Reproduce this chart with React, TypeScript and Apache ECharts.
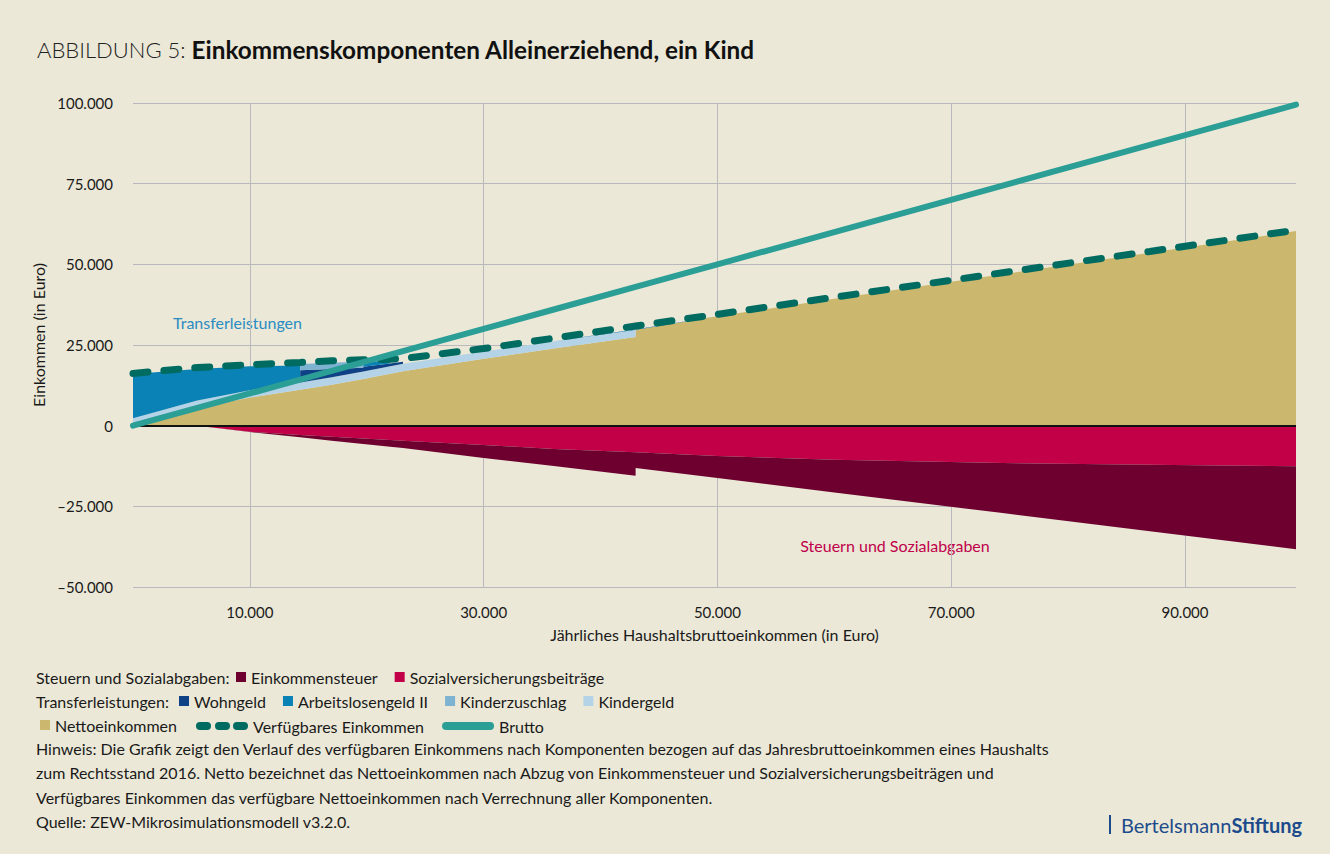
import React, { useEffect, useRef } from "react";
import * as echarts from "echarts";

// Jährliches Haushaltsbruttoeinkommen (x values; duplicates +1 mark steps)
const income = [0, 5500, 10000, 14300, 14301, 17000, 19700, 19701, 22000, 22001, 23100, 23101, 30000, 36000, 43000, 43001, 50000, 60000, 74400, 87000, 99500];
const netto = [0, 5500, 8700, 11100, 11100, 12700, 14500, 14500, 16100, 16100, 16900, 16900, 20700, 23900, 27500, 29700, 33900, 39300, 46900, 53600, 60300];
const kindergeld = [2280, 2280, 2280, 2280, 2280, 2280, 2280, 2280, 2280, 2280, 2280, 2280, 2280, 2280, 2280, 0, 0, 0, 0, 0, 0];
const wohngeld = [0, 0, 0, 0, 3800, 2600, 1200, 1500, 900, 900, 600, 0, 0, 0, 0, 0, 0, 0, 0, 0, 0];
const alg2 = [13700, 9800, 7400, 5300, 0, 0, 0, 1300, 900, 0, 0, 0, 0, 0, 0, 0, 0, 0, 0, 0, 0];
const kinderzuschlag = [0, 0, 0, 0, 1900, 1900, 1900, 0, 0, 0, 0, 0, 0, 0, 0, 0, 0, 0, 0, 0, 0];
const sozial = [0, 0, -1900, -2900, -2900, -3400, -4000, -4000, -4450, -4450, -4700, -4700, -6000, -7200, -8200, -8200, -9400, -10600, -11600, -12100, -12600];
const steuer = [0, 0, -100, -700, -700, -1300, -1700, -1700, -2050, -2050, -2200, -2200, -4000, -5300, -7300, -4900, -6800, -10100, -15500, -20600, -25700];
const verfuegbar = [16200, 18000, 18900, 19600, 19600, 20100, 20400, 20400, 20600, 20600, 20800, 20800, 23900, 27100, 30900, 30900, 34500, 39800, 47400, 54000, 60600];
const brutto = [0, 5500, 10000, 14300, 14301, 17000, 19700, 19701, 22000, 22001, 23100, 23101, 30000, 36000, 43000, 43001, 50000, 60000, 74400, 87000, 99500];

const xTicks = [10000, 30000, 50000, 70000, 90000];

const notes = [
  "Hinweis: Die Grafik zeigt den Verlauf des verfügbaren Einkommens nach Komponenten bezogen auf das Jahresbruttoeinkommen eines Haushalts",
  "zum Rechtsstand 2016. Netto bezeichnet das Nettoeinkommen nach Abzug von Einkommensteuer und Sozialversicherungsbeiträgen und",
  "Verfügbares Einkommen das verfügbare Nettoeinkommen nach Verrechnung aller Komponenten.",
  "Quelle: ZEW-Mikrosimulationsmodell v3.2.0.",
];

const C = {
  bg: "#ebe8d7",
  netto: "#ccb76e",
  kindergeld: "#b4d3e6",
  kiz: "#7db2d0",
  alg2: "#0a82b6",
  wohngeld: "#0e4185",
  steuer: "#6d002f",
  sozial: "#c20047",
  verf: "#006b60",
  brutto: "#2b9e96",
  grid: "#b8b8bd",
  text: "#1a1a1a",
};

const fmt = (v: number) => {
  const s = Math.abs(v).toString().replace(/\B(?=(\d{3})+(?!\d))/g, ".");
  return v < 0 ? "\u2013" + s : s;
};

// rows as [y, x] so that the first (stacked) dimension is the y value
const rows = (ys: number[]) => income.map((x, i) => [ys[i], x]);

export default function App() {
  const ref = useRef<HTMLDivElement>(null);
  useEffect(() => {
    if (!ref.current) return;
    const chart = echarts.init(ref.current, null, { renderer: "svg" });
    const area = (name: string, data: number[], color: string, stack: string, extra: any = {}) => ({
      name,
      type: "line",
      stack,
      data: rows(data),
      encode: { x: 1, y: 0 },
      symbol: "none",
      lineStyle: { width: 0, color },
      itemStyle: { color },
      areaStyle: { color, opacity: 1 },
      z: 2,
      ...extra,
    });
    const legText = { fontSize: 16, color: C.text, fontFamily: "Lato" };
    const dashIcon =
      "path://M4 0H11A4 4 0 0 1 11 8H4A4 4 0 0 1 4 0ZM23 0H30A4 4 0 0 1 30 8H23A4 4 0 0 1 23 0ZM41 0H48A4 4 0 0 1 48 8H41A4 4 0 0 1 41 0Z";
    const barIcon = "path://M4 0H48A4 4 0 0 1 48 8H4A4 4 0 0 1 4 0Z";
    chart.setOption({
      animation: false,
      backgroundColor: C.bg,
      textStyle: { fontFamily: "Lato", color: C.text },
      grid: { left: 133, right: 34, top: 103, bottom: 267, containLabel: false },
      xAxis: {
        type: "value",
        min: 0,
        max: 99500,
        name: "Jährliches Haushaltsbruttoeinkommen (in Euro)",
        nameLocation: "middle",
        nameGap: 39,
        nameTextStyle: { fontSize: 16, color: C.text },
        axisLine: { show: false },
        axisTick: { show: false, customValues: xTicks },
        axisLabel: { customValues: xTicks, formatter: (v: number) => fmt(v), fontSize: 15, color: C.text, margin: 17 },
        splitLine: { show: true, lineStyle: { color: C.grid, width: 1 } },
      },
      yAxis: {
        type: "value",
        min: -50000,
        max: 100000,
        interval: 25000,
        name: "Einkommen (in Euro)",
        nameLocation: "middle",
        nameGap: 84,
        nameTextStyle: { fontSize: 16, color: C.text, padding: [0, 0, 0, 20] },
        axisLine: { show: false },
        axisTick: { show: false },
        axisLabel: { formatter: (v: number) => fmt(v), fontSize: 15, color: C.text, margin: 20 },
        splitLine: { show: true, lineStyle: { color: C.grid, width: 1 } },
      },
      legend: [
        {
          left: 236, top: 669, itemWidth: 10, itemHeight: 10, itemGap: 17, padding: 0,
          selectedMode: false, textStyle: legText, itemStyle: { borderWidth: 0 },
          data: [
            { name: "Einkommensteuer", icon: "rect", itemStyle: { color: C.steuer } },
            { name: "Sozialversicherungsbeiträge", icon: "rect", itemStyle: { color: C.sozial } },
          ],
        },
        {
          left: 179, top: 693, itemWidth: 10, itemHeight: 10, itemGap: 17, padding: 0,
          selectedMode: false, textStyle: legText, itemStyle: { borderWidth: 0 },
          data: [
            { name: "Wohngeld", icon: "rect", itemStyle: { color: C.wohngeld } },
            { name: "Arbeitslosengeld II", icon: "rect", itemStyle: { color: C.alg2 } },
            { name: "Kinderzuschlag", icon: "rect", itemStyle: { color: C.kiz } },
            { name: "Kindergeld", icon: "rect", itemStyle: { color: C.kindergeld } },
          ],
        },
        {
          left: 40, top: 717, itemWidth: 10, itemHeight: 10, itemGap: 17, padding: 0,
          selectedMode: false, textStyle: legText, itemStyle: { borderWidth: 0 },
          data: [{ name: "Nettoeinkommen", icon: "rect", itemStyle: { color: C.netto } }],
        },
        {
          left: 196, top: 718, itemWidth: 52, itemHeight: 8, itemGap: 18, padding: 0,
          selectedMode: false, textStyle: legText, itemStyle: { borderWidth: 0 },
          lineStyle: { width: 0 },
          data: [
            { name: "Verfügbares Einkommen", icon: dashIcon, itemStyle: { color: C.verf, borderWidth: 0 } },
            { name: "Brutto", icon: barIcon, itemStyle: { color: C.brutto, borderWidth: 0 } },
          ],
        },
      ],
      series: [
        area("Nettoeinkommen", netto, C.netto, "pos"),
        area("Kindergeld", kindergeld, C.kindergeld, "pos"),
        area("Wohngeld", wohngeld, C.wohngeld, "pos"),
        area("Arbeitslosengeld II", alg2, C.alg2, "pos"),
        area("Kinderzuschlag", kinderzuschlag, C.kiz, "pos"),
        area("Sozialversicherungsbeiträge", sozial, C.sozial, "neg", {
          markLine: {
            silent: true,
            symbol: "none",
            label: { show: false },
            lineStyle: { color: "#111", width: 2, type: "solid" },
            z: 5,
            data: [{ yAxis: 0 }],
          },
        }),
        area("Einkommensteuer", steuer, C.steuer, "neg"),
        {
          name: "Verfügbares Einkommen",
          type: "line",
          data: rows(verfuegbar),
          encode: { x: 1, y: 0 },
          symbol: "none",
          z: 6,
          itemStyle: { color: C.verf },
          lineStyle: { color: C.verf, width: 7, type: [15, 16], cap: "round" },
        },
        {
          name: "Brutto",
          type: "line",
          data: rows(brutto),
          encode: { x: 1, y: 0 },
          symbol: "none",
          z: 7,
          itemStyle: { color: C.brutto },
          lineStyle: { color: C.brutto, width: 6, cap: "round" },
        },
      ],
      graphic: [
        {
          type: "text",
          x: 37,
          y: 49,
          style: {
            text: "{a|ABBILDUNG 5: }{b|Einkommenskomponenten Alleinerziehend, ein Kind}",
            verticalAlign: "middle",
            rich: {
              a: { fontSize: 22, fontWeight: 300, fontFamily: "Lato", fill: "#222" },
              b: { fontSize: 24.3, fontWeight: "bold", fontFamily: "Lato", fill: "#111" },
            },
          },
        },
        { type: "text", x: 173, y: 322, style: { text: "Transferleistungen", fontSize: 16, fontFamily: "Lato", fill: "#2a8cc2", verticalAlign: "middle" } },
        { type: "text", x: 1139, y: 349, style: { text: "Nettoeinkommen", fontSize: 16, fontFamily: "Lato", fill: "#ffffff", align: "center", verticalAlign: "middle" } },
        { type: "text", x: 895, y: 545, style: { text: "Steuern und Sozialabgaben", fontSize: 16, fontFamily: "Lato", fill: "#c0004a", align: "center", verticalAlign: "middle" } },
        { type: "text", x: 36, y: 677, style: { text: "Steuern und Sozialabgaben:", fontSize: 16, fontFamily: "Lato", fill: C.text, verticalAlign: "middle" } },
        { type: "text", x: 36, y: 701, style: { text: "Transferleistungen:", fontSize: 16, fontFamily: "Lato", fill: C.text, verticalAlign: "middle" } },
        ...notes.map((t, i) => ({
          type: "text",
          x: 36,
          y: 748 + i * 24.6,
          style: { text: t, fontSize: 16, fontFamily: "Lato", fill: C.text, verticalAlign: "middle" },
        })),
        { type: "rect", shape: { x: 1109, y: 815, width: 2, height: 19 }, style: { fill: "#1c4b8b" } },
        {
          type: "text",
          x: 1121,
          y: 825,
          style: {
            text: "{a|Bertelsmann}{b|Stiftung}",
            verticalAlign: "middle",
            rich: {
              a: { fontSize: 20, fontFamily: "Lato", fill: "#1c4b8b" },
              b: { fontSize: 20, fontFamily: "Lato", fontWeight: "bold", fill: "#1c4b8b" },
            },
          },
        },
      ],
    });
    return () => chart.dispose();
  }, []);
  return <div ref={ref} style={{ position: "fixed", left: 0, top: 0, width: 1330, height: 854 }} />;
}
